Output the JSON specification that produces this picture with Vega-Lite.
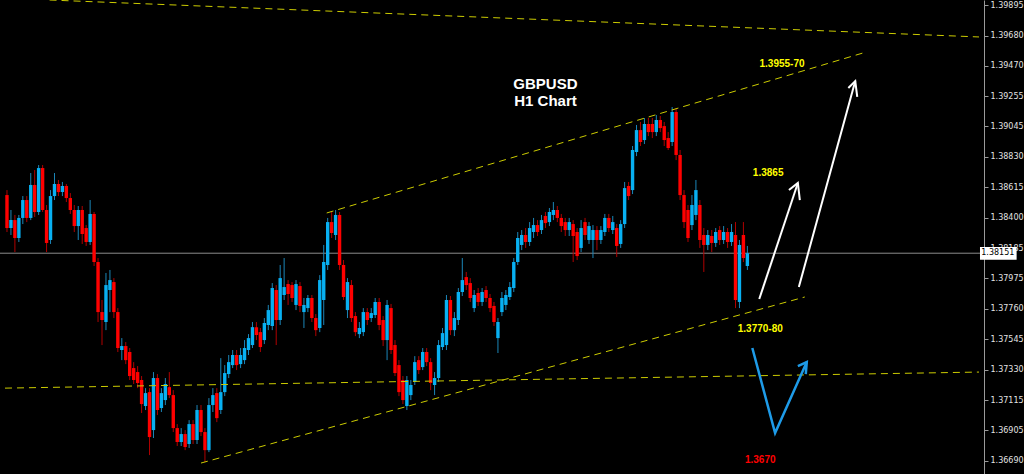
{
"$schema":"https://vega.github.io/schema/vega-lite/v6.json",
"width":984,"height":474,
"autosize":{"type":"none"},
"padding":{"left":0,"top":0,"right":40,"bottom":0},
"background":"#000000",
"config":{"view":{"stroke":null},"axis":{"labelOverlap":false,"labelFlush":false,"labelBound":false,"grid":false}},
"datasets":{
"candles":[
{"i":0,"o":1.3856,"h":1.38595,"l":1.383,"c":1.38328},
{"i":1,"o":1.38328,"h":1.38455,"l":1.38279,"c":1.38384},
{"i":2,"o":1.38384,"h":1.3842,"l":1.38159,"c":1.38258},
{"i":3,"o":1.38258,"h":1.3842,"l":1.3823,"c":1.38399},
{"i":4,"o":1.38399,"h":1.38553,"l":1.38356,"c":1.38525},
{"i":5,"o":1.38525,"h":1.38553,"l":1.3837,"c":1.38399},
{"i":6,"o":1.38399,"h":1.38715,"l":1.38384,"c":1.38631},
{"i":7,"o":1.38631,"h":1.38736,"l":1.38406,"c":1.38441},
{"i":8,"o":1.38441,"h":1.38771,"l":1.3842,"c":1.3875},
{"i":9,"o":1.3875,"h":1.38771,"l":1.38441,"c":1.38455},
{"i":10,"o":1.38455,"h":1.3849,"l":1.38159,"c":1.38223},
{"i":11,"o":1.38244,"h":1.38595,"l":1.38216,"c":1.38553},
{"i":12,"o":1.38553,"h":1.38715,"l":1.38525,"c":1.38638},
{"i":13,"o":1.38638,"h":1.38666,"l":1.38553,"c":1.38581},
{"i":14,"o":1.38581,"h":1.38652,"l":1.38553,"c":1.38624},
{"i":15,"o":1.38624,"h":1.38638,"l":1.38511,"c":1.38539},
{"i":16,"o":1.38539,"h":1.38574,"l":1.38427,"c":1.38455},
{"i":17,"o":1.38455,"h":1.3849,"l":1.383,"c":1.38342},
{"i":18,"o":1.38342,"h":1.38483,"l":1.38244,"c":1.38455},
{"i":19,"o":1.38455,"h":1.38483,"l":1.38216,"c":1.38286},
{"i":20,"o":1.38328,"h":1.38349,"l":1.38202,"c":1.3823},
{"i":21,"o":1.3823,"h":1.38525,"l":1.38209,"c":1.38427},
{"i":22,"o":1.38427,"h":1.38441,"l":1.38061,"c":1.38089},
{"i":23,"o":1.38089,"h":1.38117,"l":1.37667,"c":1.37737},
{"i":24,"o":1.37737,"h":1.37822,"l":1.37505,"c":1.37681},
{"i":25,"o":1.37667,"h":1.38012,"l":1.3761,"c":1.37927},
{"i":26,"o":1.37892,"h":1.38033,"l":1.37737,"c":1.37962},
{"i":27,"o":1.37948,"h":1.37976,"l":1.37695,"c":1.37737},
{"i":28,"o":1.37737,"h":1.37765,"l":1.37456,"c":1.37484},
{"i":29,"o":1.3747,"h":1.37554,"l":1.37399,"c":1.37498},
{"i":30,"o":1.37498,"h":1.37526,"l":1.37371,"c":1.37399},
{"i":31,"o":1.37456,"h":1.37484,"l":1.37259,"c":1.37287},
{"i":32,"o":1.37343,"h":1.37385,"l":1.37231,"c":1.37259},
{"i":33,"o":1.37315,"h":1.37357,"l":1.37202,"c":1.37238},
{"i":34,"o":1.37259,"h":1.37287,"l":1.37027,"c":1.3709},
{"i":35,"o":1.37076,"h":1.37202,"l":1.37048,"c":1.37167},
{"i":36,"o":1.37174,"h":1.37202,"l":1.36731,"c":1.36858},
{"i":37,"o":1.36907,"h":1.37315,"l":1.36851,"c":1.37273},
{"i":38,"o":1.37273,"h":1.37301,"l":1.37013,"c":1.37048},
{"i":39,"o":1.37062,"h":1.37202,"l":1.37034,"c":1.37167},
{"i":40,"o":1.37118,"h":1.37273,"l":1.37083,"c":1.37231},
{"i":41,"o":1.37209,"h":1.37315,"l":1.37132,"c":1.37153},
{"i":42,"o":1.37153,"h":1.37188,"l":1.36893,"c":1.36921},
{"i":43,"o":1.36921,"h":1.36949,"l":1.36795,"c":1.36823},
{"i":44,"o":1.36823,"h":1.36921,"l":1.36795,"c":1.36879},
{"i":45,"o":1.36879,"h":1.36907,"l":1.36766,"c":1.36788},
{"i":46,"o":1.36809,"h":1.36977,"l":1.36781,"c":1.36949},
{"i":47,"o":1.36949,"h":1.36977,"l":1.36809,"c":1.36837},
{"i":48,"o":1.36837,"h":1.37083,"l":1.36809,"c":1.37048},
{"i":49,"o":1.37048,"h":1.37083,"l":1.36865,"c":1.36893},
{"i":50,"o":1.36893,"h":1.36921,"l":1.36682,"c":1.36766},
{"i":51,"o":1.36766,"h":1.37132,"l":1.36752,"c":1.37083},
{"i":52,"o":1.37083,"h":1.37202,"l":1.37034,"c":1.37153},
{"i":53,"o":1.37167,"h":1.37202,"l":1.36963,"c":1.36991},
{"i":54,"o":1.37048,"h":1.37413,"l":1.3702,"c":1.37174},
{"i":55,"o":1.37174,"h":1.37364,"l":1.37146,"c":1.37308},
{"i":56,"o":1.37301,"h":1.37435,"l":1.37273,"c":1.37385},
{"i":57,"o":1.37364,"h":1.3747,"l":1.37343,"c":1.37435},
{"i":58,"o":1.37435,"h":1.3747,"l":1.37329,"c":1.37364},
{"i":59,"o":1.37371,"h":1.37484,"l":1.37343,"c":1.37435},
{"i":60,"o":1.37399,"h":1.3754,"l":1.37371,"c":1.37484},
{"i":61,"o":1.3747,"h":1.37582,"l":1.37435,"c":1.37554},
{"i":62,"o":1.37505,"h":1.37667,"l":1.37484,"c":1.37631},
{"i":63,"o":1.37631,"h":1.37667,"l":1.3754,"c":1.37575},
{"i":64,"o":1.37596,"h":1.37625,"l":1.37456,"c":1.37491},
{"i":65,"o":1.3754,"h":1.37695,"l":1.37512,"c":1.3766},
{"i":66,"o":1.37646,"h":1.37787,"l":1.3761,"c":1.37751},
{"i":67,"o":1.37639,"h":1.37941,"l":1.3761,"c":1.37906},
{"i":68,"o":1.37892,"h":1.37927,"l":1.37505,"c":1.37681},
{"i":69,"o":1.37681,"h":1.38068,"l":1.37646,"c":1.37976},
{"i":70,"o":1.37857,"h":1.38117,"l":1.37822,"c":1.37913},
{"i":71,"o":1.37934,"h":1.37962,"l":1.37787,"c":1.37864},
{"i":72,"o":1.37927,"h":1.37948,"l":1.37808,"c":1.37836},
{"i":73,"o":1.37787,"h":1.37962,"l":1.37751,"c":1.37934},
{"i":74,"o":1.3792,"h":1.37948,"l":1.37737,"c":1.3778},
{"i":75,"o":1.37737,"h":1.37836,"l":1.37625,"c":1.37787},
{"i":76,"o":1.37765,"h":1.37857,"l":1.37737,"c":1.37836},
{"i":77,"o":1.37836,"h":1.37857,"l":1.37667,"c":1.37695},
{"i":78,"o":1.37695,"h":1.37723,"l":1.37568,"c":1.3761},
{"i":79,"o":1.37625,"h":1.37997,"l":1.37596,"c":1.37962},
{"i":80,"o":1.37822,"h":1.38209,"l":1.37646,"c":1.38089},
{"i":81,"o":1.38068,"h":1.38399,"l":1.38033,"c":1.3837},
{"i":82,"o":1.3837,"h":1.38441,"l":1.38258,"c":1.38293},
{"i":83,"o":1.38279,"h":1.38455,"l":1.38244,"c":1.3842},
{"i":84,"o":1.3842,"h":1.38441,"l":1.38033,"c":1.38068},
{"i":85,"o":1.38068,"h":1.38103,"l":1.37822,"c":1.37843},
{"i":86,"o":1.37751,"h":1.37976,"l":1.37695,"c":1.37948},
{"i":87,"o":1.37927,"h":1.37962,"l":1.37667,"c":1.37695},
{"i":88,"o":1.37709,"h":1.37737,"l":1.37568,"c":1.37596},
{"i":89,"o":1.37582,"h":1.37667,"l":1.37554,"c":1.37625},
{"i":90,"o":1.37596,"h":1.37765,"l":1.37568,"c":1.37737},
{"i":91,"o":1.37737,"h":1.37765,"l":1.37646,"c":1.37681},
{"i":92,"o":1.37695,"h":1.37765,"l":1.37667,"c":1.3773},
{"i":93,"o":1.37716,"h":1.37836,"l":1.37695,"c":1.37808},
{"i":94,"o":1.37808,"h":1.37836,"l":1.3761,"c":1.37646},
{"i":95,"o":1.37681,"h":1.37709,"l":1.37498,"c":1.3754},
{"i":96,"o":1.3754,"h":1.37822,"l":1.37399,"c":1.37787},
{"i":97,"o":1.37765,"h":1.37794,"l":1.37442,"c":1.3747},
{"i":98,"o":1.37505,"h":1.3754,"l":1.37287,"c":1.37308},
{"i":99,"o":1.37364,"h":1.37399,"l":1.37146,"c":1.37174},
{"i":100,"o":1.37259,"h":1.37287,"l":1.3709,"c":1.37118},
{"i":101,"o":1.37076,"h":1.37287,"l":1.37048,"c":1.37259},
{"i":102,"o":1.37153,"h":1.37259,"l":1.37118,"c":1.37224},
{"i":103,"o":1.37245,"h":1.37427,"l":1.37224,"c":1.37385},
{"i":104,"o":1.37399,"h":1.37427,"l":1.37301,"c":1.37329},
{"i":105,"o":1.3735,"h":1.37484,"l":1.37329,"c":1.37456},
{"i":106,"o":1.37456,"h":1.37484,"l":1.37357,"c":1.37385},
{"i":107,"o":1.37385,"h":1.37413,"l":1.37188,"c":1.37238},
{"i":108,"o":1.37224,"h":1.37315,"l":1.37153,"c":1.37273},
{"i":109,"o":1.37273,"h":1.3754,"l":1.37245,"c":1.37505},
{"i":110,"o":1.37491,"h":1.37625,"l":1.3747,"c":1.37589},
{"i":111,"o":1.37505,"h":1.37857,"l":1.3747,"c":1.37822},
{"i":112,"o":1.37822,"h":1.3785,"l":1.37575,"c":1.3761},
{"i":113,"o":1.3761,"h":1.37737,"l":1.37568,"c":1.37695},
{"i":114,"o":1.37681,"h":1.37906,"l":1.37646,"c":1.37878},
{"i":115,"o":1.37878,"h":1.38117,"l":1.3785,"c":1.37962},
{"i":116,"o":1.37983,"h":1.38019,"l":1.37892,"c":1.37927},
{"i":117,"o":1.37941,"h":1.37976,"l":1.37808,"c":1.37836},
{"i":118,"o":1.37765,"h":1.37892,"l":1.37737,"c":1.37857},
{"i":119,"o":1.37871,"h":1.37906,"l":1.3778,"c":1.37808},
{"i":120,"o":1.37808,"h":1.37906,"l":1.3778,"c":1.37878},
{"i":121,"o":1.37892,"h":1.3792,"l":1.37808,"c":1.37836},
{"i":122,"o":1.37836,"h":1.37864,"l":1.37737,"c":1.37765},
{"i":123,"o":1.3778,"h":1.37808,"l":1.37639,"c":1.37667},
{"i":124,"o":1.37554,"h":1.37695,"l":1.37449,"c":1.37667},
{"i":125,"o":1.37737,"h":1.37878,"l":1.37709,"c":1.37836},
{"i":126,"o":1.37787,"h":1.37892,"l":1.37751,"c":1.37857},
{"i":127,"o":1.37843,"h":1.37948,"l":1.37822,"c":1.37913},
{"i":128,"o":1.37906,"h":1.38117,"l":1.37878,"c":1.38089},
{"i":129,"o":1.38089,"h":1.383,"l":1.38068,"c":1.38258},
{"i":130,"o":1.38209,"h":1.38314,"l":1.38173,"c":1.38279},
{"i":131,"o":1.38279,"h":1.38328,"l":1.38188,"c":1.3823},
{"i":132,"o":1.3823,"h":1.3837,"l":1.38202,"c":1.38328},
{"i":133,"o":1.383,"h":1.38399,"l":1.38258,"c":1.38349},
{"i":134,"o":1.38349,"h":1.38384,"l":1.38272,"c":1.383},
{"i":135,"o":1.38314,"h":1.3842,"l":1.38286,"c":1.38384},
{"i":136,"o":1.38413,"h":1.38441,"l":1.38328,"c":1.38363},
{"i":137,"o":1.3837,"h":1.38469,"l":1.38342,"c":1.38441},
{"i":138,"o":1.3842,"h":1.38511,"l":1.38384,"c":1.38455},
{"i":139,"o":1.38455,"h":1.38483,"l":1.3837,"c":1.38399},
{"i":140,"o":1.38399,"h":1.38427,"l":1.383,"c":1.38342},
{"i":141,"o":1.3837,"h":1.38399,"l":1.38272,"c":1.38314},
{"i":142,"o":1.38314,"h":1.38399,"l":1.38272,"c":1.3837},
{"i":143,"o":1.38356,"h":1.38384,"l":1.38089,"c":1.38272},
{"i":144,"o":1.383,"h":1.38328,"l":1.38103,"c":1.38131},
{"i":145,"o":1.38188,"h":1.38384,"l":1.38159,"c":1.38328},
{"i":146,"o":1.3837,"h":1.38399,"l":1.38244,"c":1.38279},
{"i":147,"o":1.38244,"h":1.3837,"l":1.38216,"c":1.38342},
{"i":148,"o":1.38244,"h":1.38349,"l":1.38117,"c":1.38314},
{"i":149,"o":1.38314,"h":1.38342,"l":1.38173,"c":1.38244},
{"i":150,"o":1.38244,"h":1.38342,"l":1.38216,"c":1.38314},
{"i":151,"o":1.383,"h":1.38427,"l":1.38272,"c":1.38399},
{"i":152,"o":1.38399,"h":1.38427,"l":1.383,"c":1.38328},
{"i":153,"o":1.38314,"h":1.38413,"l":1.38286,"c":1.3837},
{"i":154,"o":1.38328,"h":1.38356,"l":1.38124,"c":1.38202},
{"i":155,"o":1.38216,"h":1.38384,"l":1.38188,"c":1.38356},
{"i":156,"o":1.38356,"h":1.38652,"l":1.38328,"c":1.38609},
{"i":157,"o":1.38624,"h":1.38652,"l":1.38525,"c":1.38553},
{"i":158,"o":1.38595,"h":1.38905,"l":1.38567,"c":1.38877},
{"i":159,"o":1.38863,"h":1.39053,"l":1.38834,"c":1.39017},
{"i":160,"o":1.39017,"h":1.39074,"l":1.38905,"c":1.38933},
{"i":161,"o":1.38947,"h":1.39102,"l":1.38919,"c":1.3906},
{"i":162,"o":1.3906,"h":1.39102,"l":1.38975,"c":1.39003},
{"i":163,"o":1.3906,"h":1.39102,"l":1.38961,"c":1.39003},
{"i":164,"o":1.39003,"h":1.39123,"l":1.38975,"c":1.39088},
{"i":165,"o":1.39088,"h":1.39116,"l":1.39003,"c":1.39031},
{"i":166,"o":1.39045,"h":1.39074,"l":1.38905,"c":1.38947},
{"i":167,"o":1.38961,"h":1.39003,"l":1.38877,"c":1.38891},
{"i":168,"o":1.38933,"h":1.39179,"l":1.38905,"c":1.39144},
{"i":169,"o":1.39144,"h":1.39172,"l":1.38806,"c":1.38842},
{"i":170,"o":1.38842,"h":1.38877,"l":1.38525,"c":1.3856},
{"i":171,"o":1.3856,"h":1.38595,"l":1.38328,"c":1.3837},
{"i":172,"o":1.38455,"h":1.3849,"l":1.3823,"c":1.38258},
{"i":173,"o":1.38349,"h":1.3856,"l":1.38314,"c":1.3849},
{"i":174,"o":1.3842,"h":1.38666,"l":1.38384,"c":1.38595},
{"i":175,"o":1.3849,"h":1.38525,"l":1.38188,"c":1.38244},
{"i":176,"o":1.38279,"h":1.38328,"l":1.38019,"c":1.38209},
{"i":177,"o":1.38209,"h":1.38314,"l":1.38173,"c":1.38279},
{"i":178,"o":1.38272,"h":1.38314,"l":1.38159,"c":1.38223},
{"i":179,"o":1.38223,"h":1.38328,"l":1.38195,"c":1.383},
{"i":180,"o":1.38314,"h":1.38342,"l":1.38209,"c":1.38244},
{"i":181,"o":1.38244,"h":1.38342,"l":1.38216,"c":1.383},
{"i":182,"o":1.383,"h":1.38328,"l":1.38188,"c":1.3823},
{"i":183,"o":1.3823,"h":1.38356,"l":1.38202,"c":1.383},
{"i":184,"o":1.38279,"h":1.3837,"l":1.37765,"c":1.37822},
{"i":185,"o":1.37808,"h":1.38244,"l":1.37765,"c":1.38209},
{"i":186,"o":1.38279,"h":1.3837,"l":1.38089,"c":1.38117},
{"i":187,"o":1.38061,"h":1.38202,"l":1.38033,"c":1.38151}
],
"trend":[
{"id":"top","k":0,"x":10.75,"p":1.39932},{"id":"top","k":1,"x":245.5,"p":1.39672},
{"id":"sup","k":0,"x":-0.5,"p":1.37202},{"id":"sup","k":1,"x":245.5,"p":1.37315},
{"id":"uc","k":0,"x":80.75,"p":1.38434},{"id":"uc","k":1,"x":217,"p":1.39566},
{"id":"lc","k":0,"x":49,"p":1.36675},{"id":"lc","k":1,"x":201.5,"p":1.37843}
],
"white":[
{"id":"a1","k":0,"x":190,"p":1.37829},{"id":"a1","k":1,"x":199.75,"p":1.38645},
{"id":"a1h","k":0,"x":197.5,"p":1.38595},{"id":"a1h","k":1,"x":199.75,"p":1.38645},{"id":"a1h","k":2,"x":200.25,"p":1.38525},
{"id":"a2","k":0,"x":200,"p":1.37913},{"id":"a2","k":1,"x":214.25,"p":1.39362},
{"id":"a2h","k":0,"x":212.5,"p":1.39313},{"id":"a2h","k":1,"x":214.25,"p":1.39362},{"id":"a2h","k":2,"x":214.75,"p":1.3925}
],
"blue":[
{"id":"b","k":0,"x":188.25,"p":1.37484},{"id":"b","k":1,"x":194,"p":1.36886},{"id":"b","k":2,"x":202,"p":1.37385},
{"id":"bh","k":0,"x":199.75,"p":1.37357},{"id":"bh","k":1,"x":202,"p":1.37385},{"id":"bh","k":2,"x":201.75,"p":1.37301}
],
"titles":[
{"t":"GBPUSD","x":136,"p":1.39341},
{"t":"H1 Chart","x":136,"p":1.39221}
],
"levels":[
{"t":"1.3955-70","kind":"target","x":195.75,"p":1.39482},
{"t":"1.3865","kind":"target","x":192.25,"p":1.38715},
{"t":"1.3770-80","kind":"support","x":190.25,"p":1.37618},
{"t":"1.3670","kind":"downside","x":190.25,"p":1.36696}
],
"last":[{"p":1.38151}]
},
"layer":[
{"data":{"name":"last"},
 "mark":{"type":"rule","color":"#8c8c8c","strokeWidth":1},
 "encoding":{
  "y":{"field":"p","type":"quantitative","title":null,
   "scale":{"domain":[1.36598,1.39932],"nice":false,"zero":false},
   "axis":{"orient":"right","values":[1.3669,1.36905,1.37115,1.3733,1.37545,1.3776,1.37975,1.38185,1.384,1.38615,1.3883,1.39045,1.39255,1.3947,1.3968,1.39895],
    "tickCount":30,"format":".5f","grid":false,"domainColor":"#9a9a9a","tickColor":"#9a9a9a","tickSize":4,"labelColor":"#e2e2e2","labelFont":"DejaVu Sans","labelFontSize":8,"labelPadding":2,"labelFlush":false,"labelOverlap":false,"title":null,"zindex":0}}}},
{"data":{"name":"candles"},
 "mark":{"type":"rule","strokeWidth":1},
 "encoding":{
  "x":{"field":"i","type":"quantitative","scale":{"domain":[-0.5,245.5],"nice":false,"zero":false},"axis":null},
  "y":{"field":"l","type":"quantitative","title":null},
  "y2":{"field":"h"},
  "color":{"condition":{"test":"datum.c < datum.o","value":"#b00000"},"value":"#1b86b8"}}},
{"data":{"name":"candles"},
 "mark":{"type":"bar","width":3.4},
 "encoding":{
  "x":{"field":"i","type":"quantitative","axis":null},
  "y":{"field":"o","type":"quantitative","title":null},
  "y2":{"field":"c"},
  "color":{"condition":{"test":"datum.c < datum.o","value":"#ff0000"},"value":"#08b0f2"}}},
{"data":{"name":"trend"},
 "mark":{"type":"line","color":"#cccc00","strokeWidth":1,"strokeDash":[7,5]},
 "encoding":{
  "x":{"field":"x","type":"quantitative","axis":null},
  "y":{"field":"p","type":"quantitative","title":null},
  "detail":{"field":"id"},
  "order":{"field":"k"}}},
{"data":{"name":"white"},
 "mark":{"type":"line","color":"#ffffff","strokeWidth":2},
 "encoding":{
  "x":{"field":"x","type":"quantitative","axis":null},
  "y":{"field":"p","type":"quantitative","title":null},
  "detail":{"field":"id"},
  "order":{"field":"k"}}},
{"data":{"name":"blue"},
 "mark":{"type":"line","color":"#1e9be8","strokeWidth":2.5},
 "encoding":{
  "x":{"field":"x","type":"quantitative","axis":null},
  "y":{"field":"p","type":"quantitative","title":null},
  "detail":{"field":"id"},
  "order":{"field":"k"}}},
{"data":{"name":"titles"},
 "mark":{"type":"text","color":"#ffffff","font":"Liberation Sans","fontWeight":"bold","fontSize":15,"align":"center","baseline":"middle"},
 "encoding":{
  "x":{"field":"x","type":"quantitative","axis":null},
  "y":{"field":"p","type":"quantitative","title":null},
  "text":{"field":"t"}}},
{"data":{"name":"levels"},
 "mark":{"type":"text","font":"Liberation Sans","fontWeight":"bold","fontSize":10,"align":"center","baseline":"middle"},
 "encoding":{
  "x":{"field":"x","type":"quantitative","axis":null},
  "y":{"field":"p","type":"quantitative","title":null},
  "text":{"field":"t"},
  "color":{"condition":{"test":"datum.kind === 'downside'","value":"#ff0000"},"value":"#ffff00"}}},
{"data":{"name":"last"},
 "mark":{"type":"rect","color":"#ffffff","zindex":2},
 "encoding":{
  "x":{"datum":245.75,"type":"quantitative","axis":null},
  "x2":{"datum":255},
  "y":{"datum":1.38194,"type":"quantitative","title":null},
  "y2":{"datum":1.38105}}},
{"data":{"name":"last"},
 "mark":{"type":"text","color":"#000000","font":"DejaVu Sans","fontSize":8,"align":"center","baseline":"middle","zindex":3},
 "encoding":{
  "x":{"datum":250.25,"type":"quantitative","axis":null},
  "y":{"field":"p","type":"quantitative","title":null},
  "text":{"field":"p","type":"quantitative","format":".5f"}}}
]
}
